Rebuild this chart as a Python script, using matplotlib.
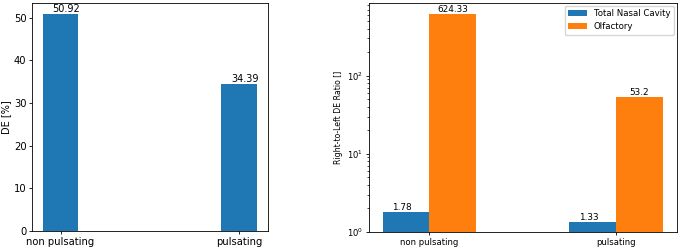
import matplotlib
matplotlib.use('Agg')
import matplotlib.pyplot as plt
import numpy as np

# data
categories = ['non pulsating', 'pulsating']
de_values = [50.92, 34.39]
ratio_total = [1.78, 1.33]
ratio_olf = [624.33, 53.2]
series_names = ['Total Nasal Cavity', 'Olfactory']

fig = plt.figure(figsize=(6.78, 2.47), dpi=100)

# left panel: DE
ax1 = fig.add_axes([0.0472, 0.0648, 0.348, 0.923])
x = np.arange(len(categories))
ax1.bar(x, de_values, width=0.2, color='#1f77b4')
for i, v in enumerate(de_values):
    ax1.text(x[i] + 0.03, v, '{:.2f}'.format(v), ha='center', va='bottom',
             fontsize=7)
ax1.set_xticks(x)
ax1.set_xticklabels(categories)
ax1.set_ylabel('DE [%]', fontsize=7, labelpad=2)
ax1.tick_params(labelsize=7.2, length=2.5, width=0.6, pad=1.5)
for s in ax1.spines.values():
    s.set_linewidth(0.6)

# right panel: ratio, log scale
ax2 = fig.add_axes([0.544, 0.0607, 0.454, 0.927])
w = 0.25
ax2.bar(x - w / 2, ratio_total, width=w, color='#1f77b4', label=series_names[0])
ax2.bar(x + w / 2, ratio_olf, width=w, color='#ff7f0e', label=series_names[1])
ax2.set_yscale('log')
ax2.set_ylim(1, 10 ** 2.93)
for i in range(len(categories)):
    ax2.text(x[i] - w / 2 - 0.02, ratio_total[i], '{:g}'.format(ratio_total[i]),
             ha='center', va='bottom', fontsize=6.4)
    ax2.text(x[i] + w / 2, ratio_olf[i], '{:g}'.format(ratio_olf[i]),
             ha='center', va='bottom', fontsize=6.4)
ax2.set_xticks(x)
ax2.set_xticklabels(categories)
ax2.set_ylabel('Right-to-Left DE Ratio []', fontsize=5.6, labelpad=3)
ax2.tick_params(labelsize=6.1, length=2.5, width=0.6, pad=1.5)
ax2.tick_params(which='minor', length=1.5, width=0.5)
for s in ax2.spines.values():
    s.set_linewidth(0.6)
ax2.legend(loc='upper right', fontsize=6.2, borderaxespad=0.3, handlelength=2.2)

fig.savefig('out.png', dpi=100)
